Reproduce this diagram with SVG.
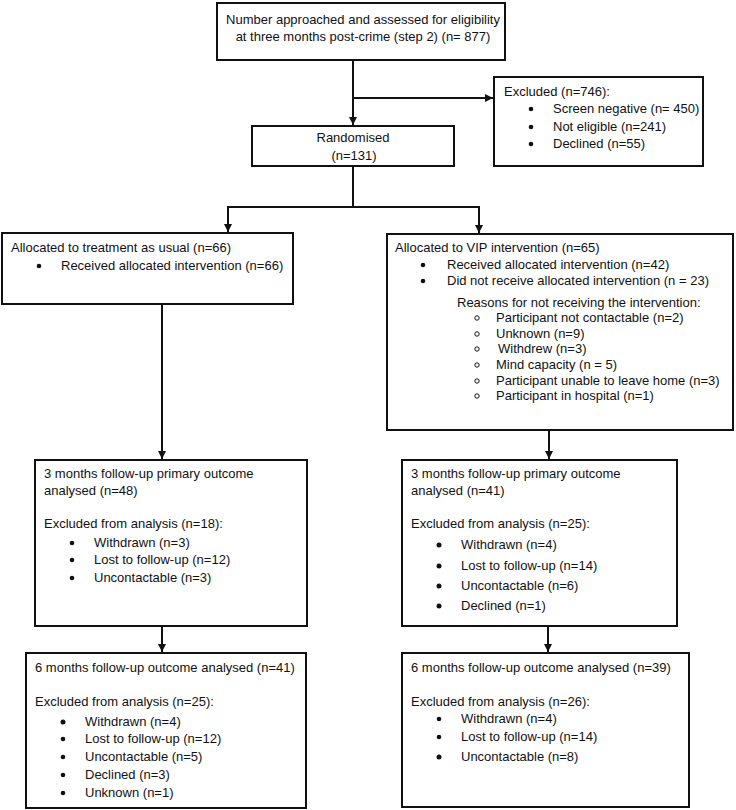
<svg xmlns="http://www.w3.org/2000/svg" width="736" height="810" viewBox="0 0 736 810">
<style>
.box{fill:#fff;stroke:#111;stroke-width:2}
.t{font-family:"Liberation Sans",Arial,sans-serif;font-size:13px;fill:#111}
.c{text-anchor:middle}
.ln{fill:none;stroke:#111;stroke-width:2}
.b{fill:#111}
.o{fill:none;stroke:#111;stroke-width:1}
</style>
<defs>
<marker id="ah" viewBox="0 0 10 10" refX="10" refY="5" markerWidth="8" markerHeight="8" markerUnits="userSpaceOnUse" orient="auto">
<path d="M0,0 L10,5 L0,10 z" fill="#111"/>
</marker>
</defs>
<rect width="736" height="810" fill="#fff"/>
<g id="connectors">
<path class="ln" d="M353,60 V125" marker-end="url(#ah)"/>
<path class="ln" d="M353,98 H493" marker-end="url(#ah)"/>
<path class="ln" d="M353,166 V207"/>
<path class="ln" d="M227,207 H480"/>
<path class="ln" d="M228,207 V232" marker-end="url(#ah)"/>
<path class="ln" d="M479,207 V233" marker-end="url(#ah)"/>
<path class="ln" d="M162,304 V459" marker-end="url(#ah)"/>
<path class="ln" d="M549,430 V459" marker-end="url(#ah)"/>
<path class="ln" d="M162,626 V652" marker-end="url(#ah)"/>
<path class="ln" d="M548,626 V652" marker-end="url(#ah)"/>
</g>
<g id="assessed">
<rect class="box" x="217" y="3" width="288" height="57"/>
<text class="t c" x="363" y="24">Number approached and assessed for eligibility</text>
<text class="t c" x="363" y="41">at three months post-crime (step 2) (n= 877)</text>
</g>
<g id="excluded">
<rect class="box" x="494" y="77" width="209" height="89"/>
<text class="t" x="504" y="96">Excluded (n=746):</text>
<circle class="b" cx="531" cy="109" r="2.3"/><text class="t" x="553" y="113">Screen negative (n= 450)</text>
<circle class="b" cx="531" cy="127" r="2.3"/><text class="t" x="553" y="131">Not eligible (n=241)</text>
<circle class="b" cx="531" cy="144" r="2.3"/><text class="t" x="553" y="148">Declined (n=55)</text>
</g>
<g id="randomised">
<rect class="box" x="252" y="126" width="202" height="40"/>
<text class="t c" x="353" y="142">Randomised</text>
<text class="t c" x="354" y="160">(n=131)</text>
</g>
<g id="tau">
<rect class="box" x="2" y="233" width="291" height="71"/>
<text class="t" x="11" y="252">Allocated to treatment as usual (n=66)</text>
<circle class="b" cx="39" cy="266" r="2.3"/><text class="t" x="61" y="270">Received allocated intervention (n=66)</text>
</g>
<g id="vip">
<rect class="box" x="387" y="234" width="346" height="196"/>
<text class="t" x="395" y="252">Allocated to VIP intervention (n=65)</text>
<circle class="b" cx="423" cy="265" r="2.3"/><text class="t" x="447" y="269">Received allocated intervention (n=42)</text>
<circle class="b" cx="423" cy="281" r="2.3"/><text class="t" x="447" y="285">Did not receive allocated intervention (n = 23)</text>
<text class="t" x="457" y="307">Reasons for not receiving the intervention:</text>
<circle class="o" cx="477" cy="318" r="2.2"/><text class="t" x="496" y="322">Participant not contactable (n=2)</text>
<circle class="o" cx="477" cy="334" r="2.2"/><text class="t" x="496" y="338">Unknown (n=9)</text>
<circle class="o" cx="477" cy="349" r="2.2"/><text class="t" x="498" y="353">Withdrew (n=3)</text>
<circle class="o" cx="477" cy="365" r="2.2"/><text class="t" x="496" y="369">Mind capacity (n = 5)</text>
<circle class="o" cx="477" cy="381" r="2.2"/><text class="t" x="496" y="385">Participant unable to leave home (n=3)</text>
<circle class="o" cx="477" cy="396" r="2.2"/><text class="t" x="496" y="400">Participant in hospital (n=1)</text>
</g>
<g id="tau3m">
<rect class="box" x="35" y="460" width="272" height="166"/>
<text class="t" x="44" y="478">3 months follow-up primary outcome</text>
<text class="t" x="44" y="495">analysed (n=48)</text>
<text class="t" x="44" y="528">Excluded from analysis (n=18):</text>
<circle class="b" cx="72" cy="543" r="2.3"/><text class="t" x="94" y="547">Withdrawn (n=3)</text>
<circle class="b" cx="72" cy="560" r="2.3"/><text class="t" x="94" y="564">Lost to follow-up (n=12)</text>
<circle class="b" cx="72" cy="578" r="2.3"/><text class="t" x="94" y="582">Uncontactable (n=3)</text>
</g>
<g id="vip3m">
<rect class="box" x="402" y="460" width="275" height="166"/>
<text class="t" x="411" y="478">3 months follow-up primary outcome</text>
<text class="t" x="411" y="495">analysed (n=41)</text>
<text class="t" x="411" y="528">Excluded from analysis (n=25):</text>
<circle class="b" cx="439" cy="545" r="2.5"/><text class="t" x="461" y="549">Withdrawn (n=4)</text>
<circle class="b" cx="439" cy="566" r="2.5"/><text class="t" x="461" y="570">Lost to follow-up (n=14)</text>
<circle class="b" cx="439" cy="586" r="2.5"/><text class="t" x="461" y="590">Uncontactable (n=6)</text>
<circle class="b" cx="439" cy="606" r="2.5"/><text class="t" x="461" y="610">Declined (n=1)</text>
</g>
<g id="tau6m">
<rect class="box" x="26" y="653" width="280" height="155"/>
<text class="t" x="35" y="672">6 months follow-up outcome analysed (n=41)</text>
<text class="t" x="35" y="706">Excluded from analysis (n=25):</text>
<circle class="b" cx="63" cy="722" r="2.5"/><text class="t" x="85" y="726">Withdrawn (n=4)</text>
<circle class="b" cx="63" cy="739" r="2.3"/><text class="t" x="85" y="743">Lost to follow-up (n=12)</text>
<circle class="b" cx="63" cy="757" r="2.3"/><text class="t" x="85" y="761">Uncontactable (n=5)</text>
<circle class="b" cx="63" cy="775" r="2.3"/><text class="t" x="85" y="779">Declined (n=3)</text>
<circle class="b" cx="63" cy="793" r="2.3"/><text class="t" x="85" y="797">Unknown (n=1)</text>
</g>
<g id="vip6m">
<rect class="box" x="402" y="653" width="287" height="154"/>
<text class="t" x="411" y="672">6 months follow-up outcome analysed (n=39)</text>
<text class="t" x="411" y="706">Excluded from analysis (n=26):</text>
<circle class="b" cx="439" cy="719" r="2.3"/><text class="t" x="461" y="723">Withdrawn (n=4)</text>
<circle class="b" cx="439" cy="737" r="2.3"/><text class="t" x="461" y="741">Lost to follow-up (n=14)</text>
<circle class="b" cx="439" cy="757" r="2.5"/><text class="t" x="461" y="761">Uncontactable (n=8)</text>
</g>
</svg>
